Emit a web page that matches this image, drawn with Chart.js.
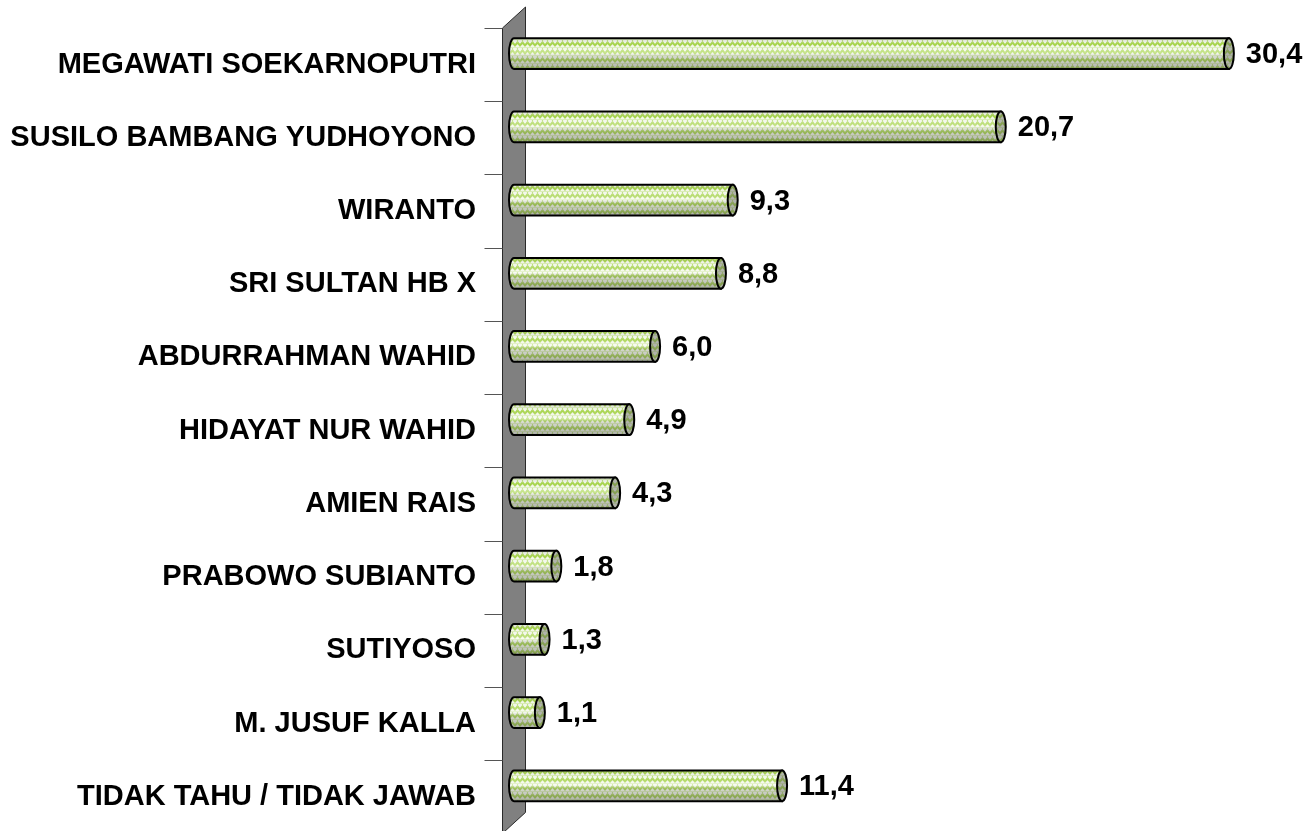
<!DOCTYPE html>
<html>
<head>
<meta charset="utf-8">
<script src="https://cdn.jsdelivr.net/npm/chart.js@4/dist/chart.umd.min.js"></script>
<style>
  html, body { margin: 0; padding: 0; background: #ffffff; }
  canvas { display: block; }
</style>
</head>
<body>
<canvas id="c" width="1308" height="831"></canvas>
<script>
const categories = [
  'MEGAWATI SOEKARNOPUTRI',
  'SUSILO BAMBANG YUDHOYONO',
  'WIRANTO',
  'SRI SULTAN HB X',
  'ABDURRAHMAN WAHID',
  'HIDAYAT NUR WAHID',
  'AMIEN RAIS',
  'PRABOWO SUBIANTO',
  'SUTIYOSO',
  'M. JUSUF KALLA',
  'TIDAK TAHU / TIDAK JAWAB'
];
const values = [30.4, 20.7, 9.3, 8.8, 6.0, 4.9, 4.3, 1.8, 1.3, 1.1, 11.4];
const valueLabels = ['30,4', '20,7', '9,3', '8,8', '6,0', '4,9', '4,3', '1,8', '1,3', '1,1', '11,4'];

const FONT = "'Liberation Sans', Arial, sans-serif";

// green zig-zag texture
function makePattern() {
  const t = document.createElement('canvas');
  t.width = 10; t.height = 8;
  const g = t.getContext('2d');
  g.fillStyle = '#f4f9ea';
  g.fillRect(0, 0, 10, 8);
  g.strokeStyle = '#9fd23a';
  g.lineWidth = 2;
  g.beginPath();
  g.moveTo(-1, 6.5); g.lineTo(2.5, 2.5); g.lineTo(5, 5.5); g.lineTo(7.5, 2.5); g.lineTo(11, 6.5);
  g.stroke();
  g.strokeStyle = '#b8df72';
  g.lineWidth = 1.2;
  g.beginPath();
  g.moveTo(2.5, 2.5); g.lineTo(2.5, -1);
  g.moveTo(7.5, 2.5); g.lineTo(7.5, -1);
  g.moveTo(0, 8); g.lineTo(10, 8);
  g.stroke();
  return g.createPattern(t, 'repeat');
}

const ctx0 = document.getElementById('c').getContext('2d');
const pattern = makePattern();

const DX = 11.5, DY = 11; // 3D depth half-offset

const wallPlugin = {
  id: 'wall',
  beforeDatasetsDraw(chart) {
    const ctx = chart.ctx;
    const xs = chart.scales.x, ys = chart.scales.y;
    const x0 = xs.getPixelForValue(0);
    const fx = x0 - DX, bx = x0 + DX;
    const top = ys.top, bottom = ys.bottom;
    ctx.save();
    ctx.beginPath();
    ctx.moveTo(fx, top + DY);
    ctx.lineTo(bx, top - DY + 1);
    ctx.lineTo(bx, bottom - DY + 1);
    ctx.lineTo(fx, bottom + DY);
    ctx.closePath();
    ctx.fillStyle = '#808080';
    ctx.fill();
    ctx.strokeStyle = '#2a2a2a';
    ctx.lineWidth = 1;
    ctx.stroke();
    // tick marks at category boundaries on the front plane
    ctx.strokeStyle = '#555555';
    ctx.lineWidth = 1;
    const n = categories.length;
    const step = (bottom - top) / n;
    for (let i = 0; i <= n; i++) {
      const y = Math.round(top + i * step + DY) + 0.5;
      ctx.beginPath();
      ctx.moveTo(fx - 18, y);
      ctx.lineTo(fx, y);
      ctx.stroke();
    }
    ctx.restore();
  }
};

const cylinderPlugin = {
  id: 'cylinder',
  afterDatasetsDraw(chart) {
    const ctx = chart.ctx;
    const meta = chart.getDatasetMeta(0);
    meta.data.forEach((bar, i) => {
      const p = bar.getProps(['x', 'y', 'base', 'height'], true);
      const h = p.height, ry = h / 2, rx = 5;
      const top = p.y - ry, bottom = p.y + ry;
      const body = new Path2D();
      body.moveTo(p.base, top);
      body.lineTo(p.x, top);
      body.lineTo(p.x, bottom);
      body.lineTo(p.base, bottom);
      body.ellipse(p.base, p.y, rx, ry, 0, Math.PI / 2, Math.PI * 1.5, false);
      body.closePath();
      ctx.save();
      ctx.fillStyle = pattern;
      ctx.fill(body);
      const gr = ctx.createLinearGradient(0, top, 0, bottom);
      gr.addColorStop(0, 'rgba(150,150,150,0.30)');
      gr.addColorStop(0.2, 'rgba(235,235,235,0.10)');
      gr.addColorStop(0.48, 'rgba(255,255,255,0.45)');
      gr.addColorStop(0.6, 'rgba(150,150,150,0.35)');
      gr.addColorStop(1, 'rgba(100,100,100,0.50)');
      ctx.fillStyle = gr;
      ctx.fill(body);
      ctx.strokeStyle = '#000000';
      ctx.lineWidth = 2;
      ctx.stroke(body);
      // right end cap
      const cap = new Path2D();
      cap.ellipse(p.x, p.y, rx, ry, 0, 0, Math.PI * 2);
      ctx.fillStyle = pattern;
      ctx.fill(cap);
      ctx.fillStyle = 'rgba(110,110,110,0.50)';
      ctx.fill(cap);
      ctx.stroke(cap);
      // value label
      ctx.fillStyle = '#000000';
      ctx.font = 'bold 29px ' + FONT;
      ctx.textAlign = 'left';
      ctx.textBaseline = 'middle';
      ctx.fillText(valueLabels[i], p.x + rx + 12, p.y + 1.5);
      ctx.restore();
    });
  }
};

new Chart(ctx0, {
  type: 'bar',
  data: {
    labels: categories,
    datasets: [{
      data: values,
      backgroundColor: 'rgba(0,0,0,0)',
      borderWidth: 0,
      barPercentage: 0.42,
      categoryPercentage: 1
    }]
  },
  options: {
    indexAxis: 'y',
    responsive: false,
    animation: false,
    layout: { padding: { left: 0, right: 18, top: 17, bottom: 8.6 } },
    plugins: { legend: { display: false }, tooltip: { enabled: false } },
    scales: {
      x: { display: false, min: 0, max: 33 },
      y: {
        afterFit(s) { s.width = 514; s.paddingTop = 0; s.paddingBottom = 0; },
        grid: { display: false, drawTicks: false },
        border: { display: false },
        ticks: {
          padding: 38,
          labelOffset: 11,
          color: '#000000',
          font: { family: FONT, size: 29, weight: 'bold' }
        }
      }
    }
  },
  plugins: [wallPlugin, cylinderPlugin]
});
</script>
</body>
</html>
